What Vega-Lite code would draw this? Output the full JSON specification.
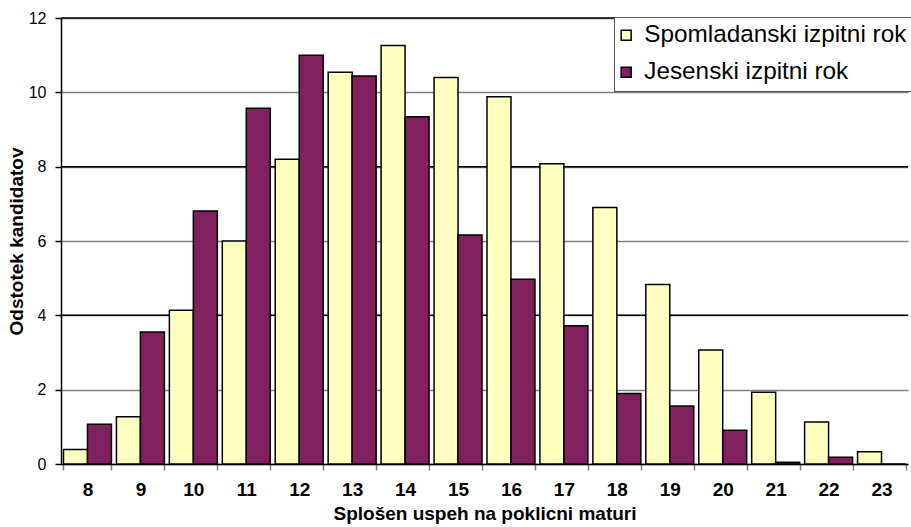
{
  "$schema": "https://vega.github.io/schema/vega-lite/v6.json",
  "width": 847,
  "height": 446,
  "autosize": {"type": "none"},
  "padding": {"left": 61, "top": 18, "right": 3, "bottom": 63},
  "background": "white",
  "config": {
    "view": {"stroke": null},
    "font": "Liberation Sans"
  },
  "layer": [
    {
      "data": {"values": [{"v": 4}, {"v": 8}, {"v": 12}]},
      "mark": {"type": "rule", "color": "#000000", "strokeWidth": 1.5},
      "encoding": {
        "y": {"field": "v", "type": "quantitative"}
      }
    },
    {
      "data": {
        "values": [
          {"ocena": "8", "rok": "Spomladanski izpitni rok", "odstotek": 0.39},
          {"ocena": "8", "rok": "Jesenski izpitni rok", "odstotek": 1.07},
          {"ocena": "9", "rok": "Spomladanski izpitni rok", "odstotek": 1.27},
          {"ocena": "9", "rok": "Jesenski izpitni rok", "odstotek": 3.55},
          {"ocena": "10", "rok": "Spomladanski izpitni rok", "odstotek": 4.14},
          {"ocena": "10", "rok": "Jesenski izpitni rok", "odstotek": 6.81},
          {"ocena": "11", "rok": "Spomladanski izpitni rok", "odstotek": 6.0},
          {"ocena": "11", "rok": "Jesenski izpitni rok", "odstotek": 9.57},
          {"ocena": "12", "rok": "Spomladanski izpitni rok", "odstotek": 8.2},
          {"ocena": "12", "rok": "Jesenski izpitni rok", "odstotek": 11.0},
          {"ocena": "13", "rok": "Spomladanski izpitni rok", "odstotek": 10.54},
          {"ocena": "13", "rok": "Jesenski izpitni rok", "odstotek": 10.44},
          {"ocena": "14", "rok": "Spomladanski izpitni rok", "odstotek": 11.26},
          {"ocena": "14", "rok": "Jesenski izpitni rok", "odstotek": 9.34},
          {"ocena": "15", "rok": "Spomladanski izpitni rok", "odstotek": 10.4},
          {"ocena": "15", "rok": "Jesenski izpitni rok", "odstotek": 6.16},
          {"ocena": "16", "rok": "Spomladanski izpitni rok", "odstotek": 9.88},
          {"ocena": "16", "rok": "Jesenski izpitni rok", "odstotek": 4.97},
          {"ocena": "17", "rok": "Spomladanski izpitni rok", "odstotek": 8.08},
          {"ocena": "17", "rok": "Jesenski izpitni rok", "odstotek": 3.72},
          {"ocena": "18", "rok": "Spomladanski izpitni rok", "odstotek": 6.9},
          {"ocena": "18", "rok": "Jesenski izpitni rok", "odstotek": 1.9},
          {"ocena": "19", "rok": "Spomladanski izpitni rok", "odstotek": 4.83},
          {"ocena": "19", "rok": "Jesenski izpitni rok", "odstotek": 1.56},
          {"ocena": "20", "rok": "Spomladanski izpitni rok", "odstotek": 3.07},
          {"ocena": "20", "rok": "Jesenski izpitni rok", "odstotek": 0.91},
          {"ocena": "21", "rok": "Spomladanski izpitni rok", "odstotek": 1.93},
          {"ocena": "21", "rok": "Jesenski izpitni rok", "odstotek": 0.05},
          {"ocena": "22", "rok": "Spomladanski izpitni rok", "odstotek": 1.13},
          {"ocena": "22", "rok": "Jesenski izpitni rok", "odstotek": 0.18},
          {"ocena": "23", "rok": "Spomladanski izpitni rok", "odstotek": 0.33},
          {"ocena": "23", "rok": "Jesenski izpitni rok", "odstotek": 0}
        ]
      },
      "mark": {"type": "bar", "stroke": "#000000", "strokeWidth": 1.5},
      "encoding": {
        "x": {
          "field": "ocena",
          "type": "ordinal",
          "sort": null,
          "scale": {"paddingInner": 0.094, "paddingOuter": 0.047},
          "axis": {
            "title": "Splošen uspeh na poklicni maturi",
            "titleFont": "Liberation Sans",
            "titleFontSize": 19,
            "titleFontWeight": "bold",
            "titleColor": "#000000",
            "titlePadding": 5,
            "labelFont": "Liberation Sans",
            "labelFontSize": 19,
            "labelFontWeight": "bold",
            "labelColor": "#000000",
            "labelAngle": 0,
            "labelPadding": 10,
            "tickBand": "extent",
            "tickSize": 6,
            "tickColor": "#808080",
            "tickWidth": 1.5,
            "domainColor": "#000000",
            "domainWidth": 1.5,
            "grid": false
          }
        },
        "xOffset": {
          "field": "rok",
          "sort": ["Spomladanski izpitni rok", "Jesenski izpitni rok"]
        },
        "y": {
          "field": "odstotek",
          "type": "quantitative",
          "scale": {"domain": [0, 12], "nice": false},
          "axis": {
            "title": "Odstotek kandidatov",
            "titleFont": "Liberation Sans",
            "titleFontSize": 19,
            "titleFontWeight": "bold",
            "titleColor": "#000000",
            "titlePadding": 2,
            "values": [0, 2, 4, 6, 8, 10, 12],
            "labelFont": "Liberation Sans",
            "labelFontSize": 16,
            "labelColor": "#000000",
            "labelPadding": 9,
            "tickSize": 6,
            "tickColor": "#000000",
            "tickWidth": 1.5,
            "domainColor": "#000000",
            "domainWidth": 1.5,
            "grid": true,
            "gridColor": "#808080",
            "gridWidth": 1.5
          }
        },
        "color": {
          "field": "rok",
          "type": "nominal",
          "scale": {
            "domain": ["Spomladanski izpitni rok", "Jesenski izpitni rok"],
            "range": ["#FFFFC0", "#80205F"]
          },
          "legend": {
            "title": null,
            "orient": "none",
            "legendX": 553,
            "legendY": -1,
            "labelFont": "Liberation Sans",
            "labelFontSize": 24.3,
            "labelColor": "#000000",
            "labelLimit": 400,
            "labelOffset": 6,
            "symbolOffset": -6,
            "symbolType": "square",
            "symbolSize": 100,
            "symbolStrokeColor": "#000000",
            "symbolStrokeWidth": 1.5,
            "rowPadding": 12,
            "padding": 6,
            "strokeColor": "#555555",
            "fillColor": "#FFFFFF"
          }
        }
      }
    }
  ]
}
